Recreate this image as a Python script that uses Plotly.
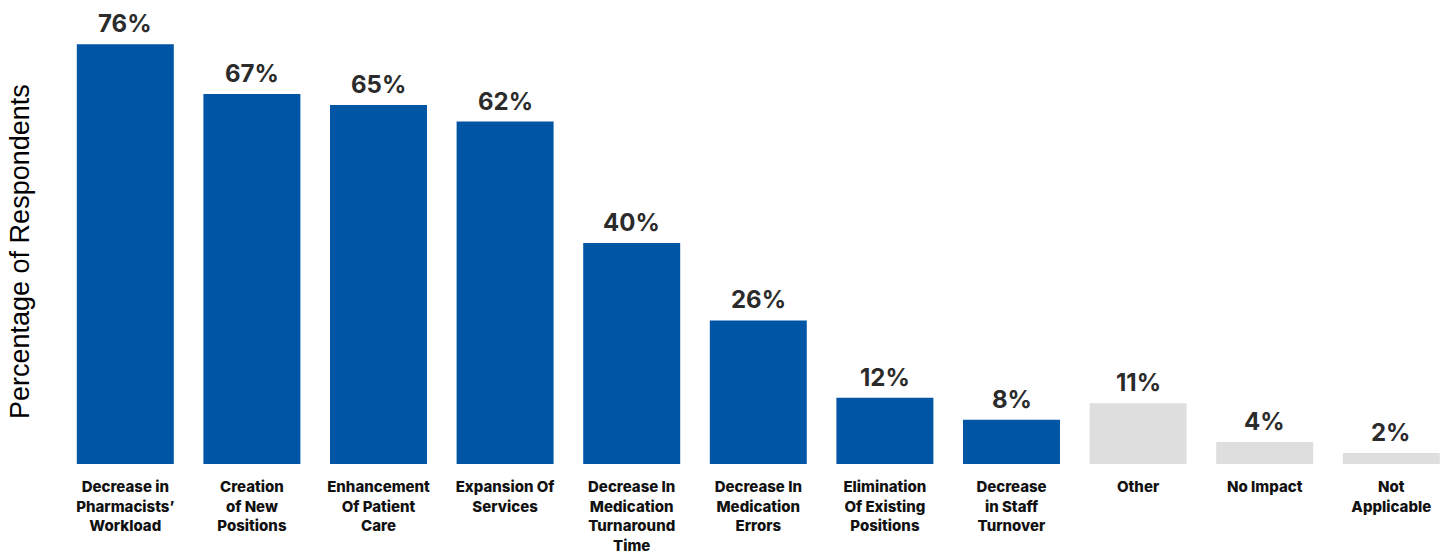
import plotly.graph_objects as go

categories = [
    "Decrease in<br>Pharmacists’<br>Workload",
    "Creation<br>of New<br>Positions",
    "Enhancement<br>Of Patient<br>Care",
    "Expansion Of<br>Services",
    "Decrease In<br>Medication<br>Turnaround<br>Time",
    "Decrease In<br>Medication<br>Errors",
    "Elimination<br>Of Existing<br>Positions",
    "Decrease<br>in Staff<br>Turnover",
    "Other",
    "No Impact",
    "Not<br>Applicable",
]
values = [76, 67, 65, 62, 40, 26, 12, 8, 11, 4, 2]
highlight = [True, True, True, True, True, True, True, True, False, False, False]

BLUE = "#0055A5"
GREY = "#DEDEDE"
colors = [BLUE if h else GREY for h in highlight]
xs = list(range(len(categories)))

fig = go.Figure(
    go.Bar(
        x=xs,
        y=values,
        marker=dict(color=colors, line=dict(width=0)),
        width=0.766,
        hoverinfo="skip",
    )
)

# value labels above each bar
value_labels = [
    dict(
        x=x, y=v, xref="x", yref="y",
        text=f"{v}%",
        showarrow=False,
        xanchor="center", yanchor="bottom",
        yshift=4,
        font=dict(family="Inter", size=24, color="#2b2b2b", weight="bold"),
    )
    for x, v in zip(xs, values)
]

fig.update_layout(
    width=1447,
    height=554,
    margin=dict(l=62, r=0, t=10, b=90),
    plot_bgcolor="white",
    paper_bgcolor="white",
    showlegend=False,
    xaxis=dict(
        tickmode="array",
        tickvals=xs,
        ticktext=categories,
        range=[-0.5, 10.44],
        automargin=False,
        showgrid=False,
        zeroline=False,
        showline=False,
        ticks="",
        tickangle=0,
        tickfont=dict(family="Inter", size=15, color="#111111", weight=800),
        ticklabelstandoff=12,
    ),
    yaxis=dict(
        range=[0, 82.2],
        automargin=False,
        showgrid=False,
        zeroline=False,
        showline=False,
        showticklabels=False,
        ticks="",
    ),
    annotations=value_labels + [
        dict(
            text="Percentage of Respondents",
            xref="paper", yref="paper",
            x=-42 / 1385, y=(464 - 252) / 454,
            xanchor="center", yanchor="middle",
            textangle=-90,
            showarrow=False,
            font=dict(family="Liberation Sans", size=27, color="#000000"),
        )
    ],
)

fig.write_html("out.html")
